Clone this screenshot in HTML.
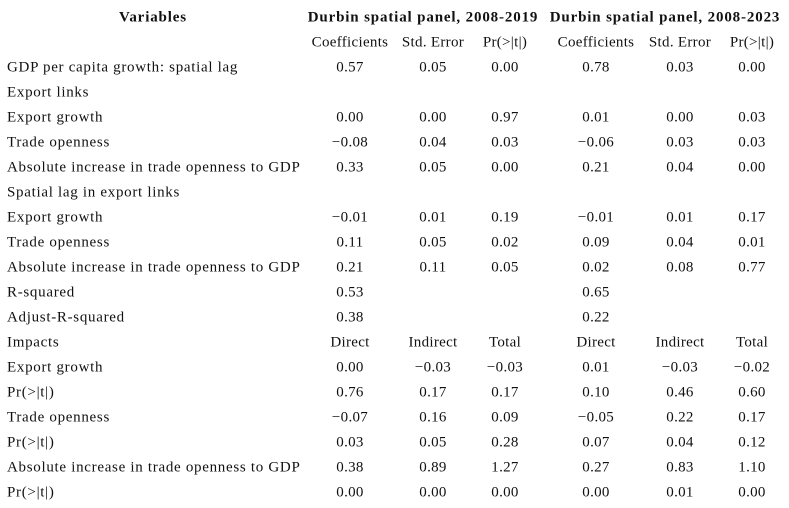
<!DOCTYPE html>
<html><head><meta charset="utf-8"><style>
body{margin:0;width:789px;height:508px;background:#fff;overflow:hidden}
#t{position:relative;width:789px;height:508px;font-family:"Liberation Serif",serif;font-size:15px;color:#111}
.c{position:absolute;white-space:nowrap;transform:translate(-50%,-50%)}
.l{position:absolute;white-space:nowrap;transform:translateY(-50%);left:7px;letter-spacing:0.7px}
.b{font-weight:bold;letter-spacing:0.85px}
.s{letter-spacing:0.3px}
</style></head><body>
<div id="t"></div>
<script>
const rows=[
["GDP per capita growth: spatial lag","0.57","0.05","0.00","0.78","0.03","0.00"],
["Export links","","","","","",""],
["Export growth","0.00","0.00","0.97","0.01","0.00","0.03"],
["Trade openness","−0.08","0.04","0.03","−0.06","0.03","0.03"],
["Absolute increase in trade openness to GDP","0.33","0.05","0.00","0.21","0.04","0.00"],
["Spatial lag in export links","","","","","",""],
["Export growth","−0.01","0.01","0.19","−0.01","0.01","0.17"],
["Trade openness","0.11","0.05","0.02","0.09","0.04","0.01"],
["Absolute increase in trade openness to GDP","0.21","0.11","0.05","0.02","0.08","0.77"],
["R-squared","0.53","","","0.65","",""],
["Adjust-R-squared","0.38","","","0.22","",""],
["Impacts","Direct","Indirect","Total","Direct","Indirect","Total"],
["Export growth","0.00","−0.03","−0.03","0.01","−0.03","−0.02"],
["Pr(>|t|)","0.76","0.17","0.17","0.10","0.46","0.60"],
["Trade openness","−0.07","0.16","0.09","−0.05","0.22","0.17"],
["Pr(>|t|)","0.03","0.05","0.28","0.07","0.04","0.12"],
["Absolute increase in trade openness to GDP","0.38","0.89","1.27","0.27","0.83","1.10"],
["Pr(>|t|)","0.00","0.00","0.00","0.00","0.01","0.00"]
];
const subheads=["Coefficients","Std. Error","Pr(>|t|)","Coefficients","Std. Error","Pr(>|t|)"];
const colX=[350,433,505,596,680,752];
const t=document.getElementById('t');
function add(cls,txt,x,y,name){
 const d=document.createElement('div');d.className=cls;d.textContent=txt;
 if(x!==null)d.style.left=x+'px';d.style.top=y+'px';
 
 
 t.appendChild(d);}
add('c b','Variables',153,18,'variables-header');
add('c b','Durbin spatial panel, 2008-2019',423,18,'panel-2019-header');
add('c b','Durbin spatial panel, 2008-2023',665,18,'panel-2023-header');
subheads.forEach((s,i)=>add('c s',s,colX[i],43,'column-subheader'));
rows.forEach((r,ri)=>{
 const y=68+ri*25;
 add('l',r[0],null,y,'row-label');
 for(let i=1;i<7;i++) if(r[i]) add('c s',r[i],colX[i-1],y,'table-cell');
});
</script>
</body></html>
